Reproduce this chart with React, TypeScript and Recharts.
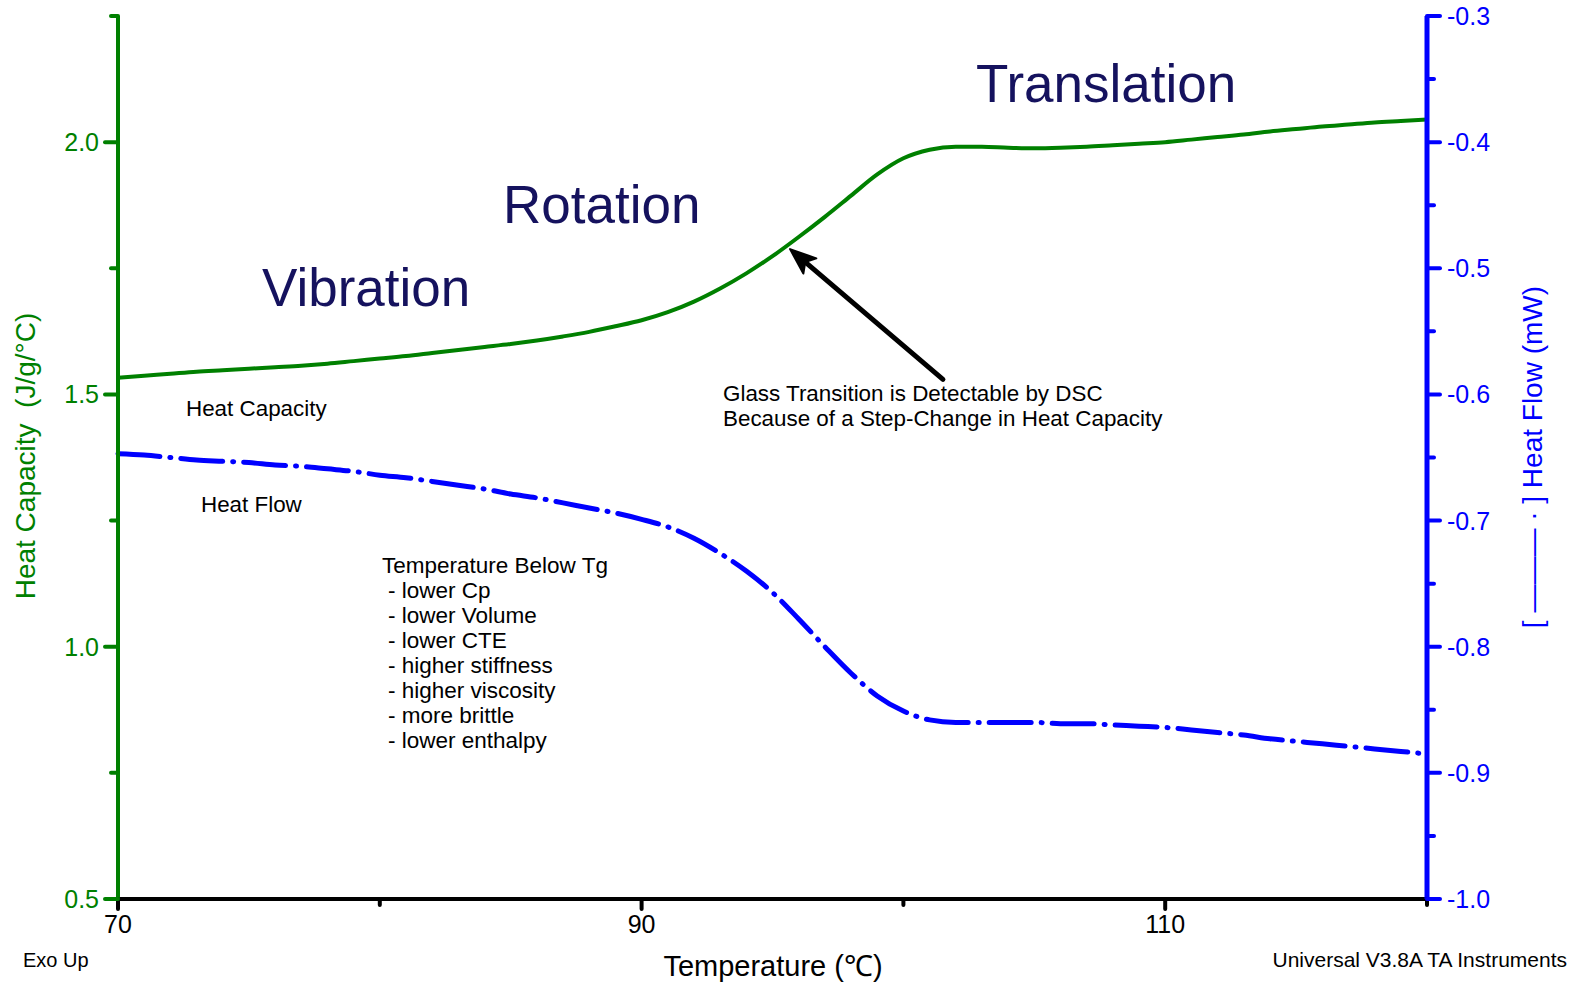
import React from "react";
import { LineChart, Line, XAxis, YAxis, ReferenceLine } from "recharts";

const temps = [70,71,72,73,74,75,76,77,78,79,80,81,82,83,84,85,86,87,88,89,90,91,92,93,94,95,96,97,98,99,100,101,102,103,104,105,106,107,108,109,110,111,112,113,114,115,116,117,118,119,120];
const heatCapacity = [1.533,1.537,1.541,1.545,1.548,1.551,1.554,1.557,1.561,1.566,1.571,1.576,1.582,1.588,1.594,1.600,1.607,1.615,1.624,1.635,1.647,1.663,1.684,1.710,1.740,1.774,1.812,1.852,1.894,1.936,1.968,1.985,1.991,1.991,1.989,1.988,1.989,1.991,1.994,1.997,2.000,2.005,2.010,2.015,2.021,2.026,2.031,2.035,2.039,2.042,2.045];
const heatFlow = [-0.647,-0.648,-0.650,-0.652,-0.653,-0.654,-0.656,-0.657,-0.659,-0.661,-0.664,-0.666,-0.669,-0.672,-0.675,-0.679,-0.682,-0.686,-0.690,-0.694,-0.699,-0.705,-0.714,-0.726,-0.740,-0.757,-0.778,-0.800,-0.821,-0.839,-0.851,-0.858,-0.860,-0.860,-0.860,-0.860,-0.861,-0.861,-0.862,-0.863,-0.864,-0.866,-0.868,-0.870,-0.873,-0.875,-0.877,-0.879,-0.881,-0.883,-0.885];

const xTicks = [70,80,90,100,110,120];
const xLabelled = [70,90,110];
const leftTicks = [0.5,0.75,1.0,1.25,1.5,1.75,2.0,2.25];
const leftLabelled = [0.5,1.0,1.5,2.0];
const rightTicks = [-1.0,-0.95,-0.9,-0.85,-0.8,-0.75,-0.7,-0.65,-0.6,-0.55,-0.5,-0.45,-0.4,-0.35,-0.3];

const arrowTail = { x: 101.51, y: 1.53 };
const arrowTip = { x: 95.67, y: 1.788 };

const belowTgLines = ["- lower Cp","- lower Volume","- lower CTE","- higher stiffness","- higher viscosity","- more brittle","- lower enthalpy"];

const rows = temps.map((t, i) => ({ t, cp: heatCapacity[i], hf: heatFlow[i] }));

const FONT = '"Liberation Sans", Arial, Helvetica, sans-serif';
const GREEN = "#008000";
const BLUE = "#0000ff";
const NAVY = "#15125e";

const XTick = (props: any) => {
  const { x, y, payload } = props;
  const major = xLabelled.includes(payload.value);
  return (
    <g>
      <line x1={x} y1={y} x2={x} y2={y + (major ? 10 : 6)} stroke="#000" strokeWidth={4} strokeLinecap="round" />
      {major && (
        <text x={x} y={y + 34} textAnchor="middle" fontSize={25} fontFamily={FONT} fill="#000">
          {payload.value}
        </text>
      )}
    </g>
  );
};

const LeftTick = (props: any) => {
  const { x, y, payload } = props;
  const v = payload.value;
  const major = leftLabelled.some((m) => Math.abs(m - v) < 1e-6);
  return (
    <g>
      <line x1={x - (major ? 13 : 7)} y1={y} x2={x} y2={y} stroke={GREEN} strokeWidth={4} strokeLinecap="round" />
      {major && (
        <text x={x - 19} y={y + 9} textAnchor="end" fontSize={25} fontFamily={FONT} fill={GREEN}>
          {v.toFixed(1)}
        </text>
      )}
    </g>
  );
};

const RightTick = (props: any) => {
  const { x, y, payload } = props;
  const v = payload.value;
  const major = Math.round(v * 100) % 10 === 0;
  return (
    <g>
      <line x1={x} y1={y} x2={x + (major ? 13 : 7)} y2={y} stroke={BLUE} strokeWidth={4} strokeLinecap="round" />
      {major && (
        <text x={x + 20} y={y + 9} textAnchor="start" fontSize={25} fontFamily={FONT} fill={BLUE}>
          {v.toFixed(1)}
        </text>
      )}
    </g>
  );
};

const ArrowShape = (props: any) => {
  const { x1, y1, x2, y2 } = props;
  const dx = x2 - x1;
  const dy = y2 - y1;
  const len = Math.sqrt(dx * dx + dy * dy) || 1;
  const ux = dx / len;
  const uy = dy / len;
  const headLen = 26;
  const headHalf = 10;
  const bx = x2 - ux * headLen;
  const by = y2 - uy * headLen;
  const px = -uy;
  const py = ux;
  return (
    <g>
      <line x1={x1} y1={y1} x2={bx + ux * 4} y2={by + uy * 4} stroke="#000" strokeWidth={5} strokeLinecap="round" />
      <polygon
        points={`${x2},${y2} ${bx + px * headHalf},${by + py * headHalf} ${bx + ux * 6},${by + uy * 6} ${bx - px * headHalf},${by - py * headHalf}`}
        fill="#000"
        stroke="#000"
        strokeWidth={2}
        strokeLinejoin="round"
      />
    </g>
  );
};

export default function App() {
  return (
    <div style={{ position: "absolute", left: 0, top: 0, width: 1581, height: 983, background: "#fff", fontFamily: FONT }}>
      <LineChart
        width={1581}
        height={983}
        data={rows}
        margin={{ top: 16, right: 94, bottom: 44, left: 58 }}
      >
        <XAxis
          dataKey="t"
          type="number"
          domain={[70, 120]}
          ticks={xTicks}
          interval={0}
          tick={<XTick />}
          tickLine={false}
          tickSize={0}
          tickMargin={0}
          axisLine={{ stroke: "#000", strokeWidth: 4 }}
          height={40}
        />
        <XAxis
          xAxisId="top"
          orientation="top"
          dataKey="t"
          type="number"
          domain={[70, 120]}
          tick={false}
          tickLine={false}
          axisLine={{ stroke: "#000", strokeWidth: 4 }}
          height={0}
        />
        <YAxis
          yAxisId="left"
          type="number"
          domain={[0.5, 2.25]}
          ticks={leftTicks}
          interval={0}
          tick={<LeftTick />}
          tickLine={false}
          tickSize={0}
          tickMargin={0}
          axisLine={{ stroke: GREEN, strokeWidth: 4 }}
          width={60}
        />
        <YAxis
          yAxisId="right"
          orientation="right"
          type="number"
          domain={[-1.0, -0.3]}
          ticks={rightTicks}
          interval={0}
          tick={<RightTick />}
          tickLine={false}
          tickSize={0}
          tickMargin={0}
          axisLine={{ stroke: BLUE, strokeWidth: 5 }}
          width={60}
        />
        <Line
          yAxisId="left"
          dataKey="cp"
          type="monotone"
          stroke={GREEN}
          strokeWidth={4}
          dot={false}
          activeDot={false}
          isAnimationActive={false}
        />
        <Line
          yAxisId="right"
          dataKey="hf"
          type="monotone"
          stroke={BLUE}
          strokeWidth={5}
          strokeDasharray="42 10 1 10"
          strokeLinecap="round"
          dot={false}
          activeDot={false}
          isAnimationActive={false}
        />
        <ReferenceLine
          yAxisId="left"
          segment={[arrowTail, arrowTip]}
          shape={<ArrowShape />}
          stroke="#000"
        />
      </LineChart>
      <svg
        width={1581}
        height={983}
        style={{ position: "absolute", left: 0, top: 0, pointerEvents: "none" }}
        fontFamily={FONT}
      >
        <text x={976} y={102} fontSize={53} fill={NAVY}>Translation</text>
        <text x={503} y={223} fontSize={53} fill={NAVY}>Rotation</text>
        <text x={262} y={306} fontSize={53} fill={NAVY}>Vibration</text>

        <text x={186} y={416} fontSize={22.4} fill="#000">Heat Capacity</text>
        <text x={201} y={512} fontSize={22.4} fill="#000">Heat Flow</text>

        <text x={382} y={573} fontSize={22.5} fill="#000">Temperature Below Tg</text>
        {belowTgLines.map((s, i) => (
          <text key={s} x={388} y={598 + i * 25} fontSize={22.5} fill="#000">{s}</text>
        ))}

        <text x={723} y={401} fontSize={22.4} fill="#000">Glass Transition is Detectable by DSC</text>
        <text x={723} y={426} fontSize={22.4} fill="#000">Because of a Step-Change in Heat Capacity</text>

        <text x={773} y={976} fontSize={29} textAnchor="middle" fill="#000">Temperature (℃)</text>
        <text x={23} y={967} fontSize={20} fill="#000">Exo Up</text>
        <text x={1567} y={967} fontSize={21} textAnchor="end" fill="#000">Universal V3.8A TA Instruments</text>

        <text
          x={35}
          y={456}
          fontSize={28}
          textAnchor="middle"
          fill={GREEN}
          transform="rotate(-90 35 456)"
          style={{ whiteSpace: "pre" }}
        >
          {"Heat Capacity  (J/g/°C)"}
        </text>
        <text
          x={1542}
          y={457}
          fontSize={28}
          textAnchor="middle"
          fill={BLUE}
          transform="rotate(-90 1542 457)"
          style={{ whiteSpace: "pre" }}
        >
          {"[ ——— · ] Heat Flow (mW)"}
        </text>
      </svg>
    </div>
  );
}
